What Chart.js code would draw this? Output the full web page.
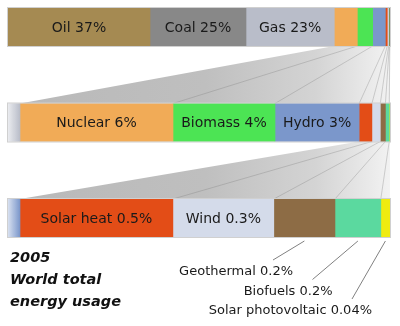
<!DOCTYPE html>
<html>
<head>
<meta charset="utf-8">
<script src="https://cdn.jsdelivr.net/npm/chart.js@4"></script>
<style>
html, body { margin: 0; padding: 0; background: #fff; }
#wrap { width: 400px; height: 326px; }
</style>
</head>
<body>
<div id="wrap"><canvas id="energyChart"></canvas></div>
<script>
// data
const sources = ["Oil", "Coal", "Gas", "Nuclear", "Biomass", "Hydro", "Solar heat", "Wind", "Geothermal", "Biofuels", "Solar photovoltaic"]
const shares = [37, 25, 23, 6, 4, 3.3, 0.5, 0.33, 0.2, 0.15, 0.03]
const shareText = ["37%", "25%", "23%", "6%", "4%", "3%", "0.5%", "0.3%", "0.2%", "0.2%", "0.04%"]
const zoomLevels = ["all", "zoom 1", "zoom 2"]
const rowFirst = [0, 3, 6]   // first source shown at each zoom level
const titleLines = ["2005", "World total", "energy usage"]

// styles
const colors = ["#a58a52", "#888888", "#b9bdc9", "#f1ab57", "#4ce454", "#7b97cb", "#e34d17", "#d4dbea", "#8d6c45", "#5bd99f", "#efeb10"]
const BAR = 38
const STUB = 12 / 382   // share of the width used by the faded tail of the previous level

const starts = []
shares.reduce((acc, v, i) => { starts[i] = acc; return acc + v }, 0)
const total = shares.reduce((a, b) => a + b, 0)
const axisMin = rowFirst.map(k => {
  if (k === 0) return 0
  const s = starts[k]
  return s - (total - s) * STUB / (1 - STUB)
})

function fade(hex, a) {
  const n = parseInt(hex.slice(1), 16)
  return `rgba(${n >> 16},${(n >> 8) & 255},${n & 255},${a})`
}

const datasets = []
zoomLevels.forEach((level, r) => {
  sources.forEach((name, k) => {
    const end = starts[k] + shares[k]
    if (end <= axisMin[r]) return
    const stub = r > 0 && k === rowFirst[r] - 1
    datasets.push({
      label: name,
      data: zoomLevels.map((_, i) => i === r ? [starts[k], end] : null),
      xAxisID: "x" + r,
      grouped: false,
      barThickness: BAR,
      borderWidth: 0,
      clip: { left: 0, right: 0, top: false, bottom: false },
      backgroundColor: stub ? (ctx) => {
        const chart = ctx.chart
        const area = chart.chartArea
        if (!area) return colors[k]
        const xEnd = chart.scales["x" + r].getPixelForValue(starts[rowFirst[r]])
        const g = chart.ctx.createLinearGradient(area.left, 0, xEnd, 0)
        g.addColorStop(0, fade(colors[k], 0.3))
        g.addColorStop(1, colors[k])
        return g
      } : colors[k]
    })
  })
})

const xScales = {}
zoomLevels.forEach((_, r) => {
  xScales["x" + r] = { type: "linear", axis: "x", position: "bottom", display: false, min: axisMin[r], max: total }
})

function rowBox(chart, r) {
  const c = chart.scales.y.getPixelForValue(r)
  return { top: c - BAR / 2, bottom: c + BAR / 2 }
}

const zoomPlugin = {
  id: "zoomPlugin",
  beforeDatasetsDraw(chart) {
    const ctx = chart.ctx
    const area = chart.chartArea
    ctx.save()
    for (let r = 0; r < zoomLevels.length - 1; r++) {
      const xa = chart.scales["x" + r]
      const xb = chart.scales["x" + (r + 1)]
      const s = starts[rowFirst[r + 1]]
      const ty = rowBox(chart, r).bottom
      const by = rowBox(chart, r + 1).top
      const tl = xa.getPixelForValue(s)
      const bl = xb.getPixelForValue(s)
      const g = ctx.createLinearGradient(bl, 0, area.right, 0)
      g.addColorStop(0, "#b9b9b9")
      g.addColorStop(0.5, "#bfbfbf")
      g.addColorStop(0.8, "#d4d4d4")
      g.addColorStop(1, "#f2f2f2")
      ctx.fillStyle = g
      ctx.beginPath()
      ctx.moveTo(tl, ty)
      ctx.lineTo(area.right, ty)
      ctx.lineTo(area.right, by)
      ctx.lineTo(bl, by)
      ctx.closePath()
      ctx.fill()
      ctx.strokeStyle = "rgba(120,120,120,0.45)"
      ctx.lineWidth = 0.7
      for (let k = rowFirst[r + 1] + 1; k < sources.length; k++) {
        ctx.beginPath()
        ctx.moveTo(xa.getPixelForValue(starts[k]), ty)
        ctx.lineTo(xb.getPixelForValue(starts[k]), by)
        ctx.stroke()
      }
    }
    ctx.restore()
  },
  afterDatasetsDraw(chart) {
    const ctx = chart.ctx
    const area = chart.chartArea
    const last = zoomLevels.length - 1
    ctx.save()
    ctx.strokeStyle = "#d0d0d0"
    ctx.lineWidth = 1
    zoomLevels.forEach((_, r) => {
      const box = rowBox(chart, r)
      ctx.strokeRect(area.left - 0.5, box.top - 0.5, area.right - area.left + 1, BAR + 1)
    })

    zoomLevels.forEach((_, r) => {
      const xs = chart.scales["x" + r]
      const box = rowBox(chart, r)
      let outside = 0
      sources.forEach((name, k) => {
        if (k < rowFirst[r]) return
        const a = Math.max(xs.getPixelForValue(starts[k]), area.left)
        const b = Math.min(xs.getPixelForValue(starts[k] + shares[k]), area.right)
        const text = name + " " + shareText[k]
        ctx.font = '14px "DejaVu Sans"'
        const w = ctx.measureText(text).width
        if (b - a > w + 8) {
          ctx.fillStyle = "#1a1a1a"
          ctx.textAlign = "center"
          ctx.textBaseline = "middle"
          ctx.fillText(text, (a + b) / 2, (box.top + box.bottom) / 2 + 1)
        } else if (r === last) {
          const rightX = area.right - 97 + outside * 39.5
          const base = box.bottom + 38 + outside * 19.5
          ctx.strokeStyle = "#808080"
          ctx.lineWidth = 1
          ctx.beginPath()
          ctx.moveTo((a + b) / 2, box.bottom + 4)
          ctx.lineTo(rightX - 20, base - 15)
          ctx.stroke()
          ctx.font = '13px "DejaVu Sans"'
          ctx.fillStyle = "#1a1a1a"
          ctx.textAlign = "right"
          ctx.textBaseline = "alphabetic"
          ctx.fillText(text, rightX, base)
          outside++
        }
      })
    })

    const bottom = rowBox(chart, last).bottom
    ctx.font = 'italic bold 14.5px "DejaVu Sans"'
    ctx.fillStyle = "#111"
    ctx.textAlign = "left"
    ctx.textBaseline = "alphabetic"
    titleLines.forEach((line, i) => {
      ctx.fillText(line, area.left + 2, bottom + 25 + i * 22)
    })
    ctx.restore()
  }
}

new Chart(document.getElementById("energyChart"), {
  type: "bar",
  data: { labels: zoomLevels, datasets: datasets },
  options: {
    indexAxis: "y",
    responsive: true,
    maintainAspectRatio: false,
    animation: false,
    layout: { padding: { left: 8, right: 10, top: 27, bottom: 108 } },
    scales: Object.assign({ y: { type: "category", offset: false, display: false } }, xScales),
    plugins: { legend: { display: false }, tooltip: { enabled: false } }
  },
  plugins: [zoomPlugin]
})
</script>
</body>
</html>
